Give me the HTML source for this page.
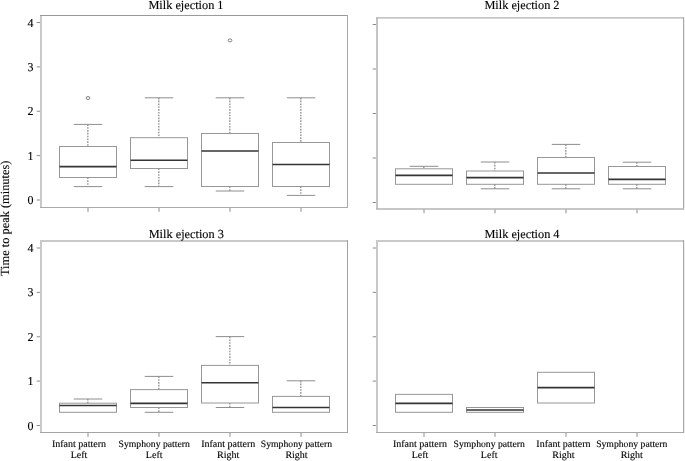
<!DOCTYPE html>
<html><head><meta charset="utf-8"><style>
html,body{margin:0;padding:0;background:#fff;}
body{width:685px;height:461px;overflow:hidden;}
svg{display:block;filter:grayscale(1);}
text{text-rendering:geometricPrecision;font-family:"Liberation Serif",serif;fill:#000000;stroke:#000000;stroke-width:0.12px;}
.tk{font-size:12px;}
.ti{font-size:12.3px;}
.yl{font-size:12.4px;}
.xl{font-size:10px;}
.xs{font-size:9.7px;}
</style></head><body>
<svg width="685" height="461" viewBox="0 0 685 461">
<line x1="41.00" y1="15.50" x2="41.00" y2="207.50" stroke="#c9c9c9" stroke-width="2"/>
<line x1="40.00" y1="15.50" x2="348.00" y2="15.50" stroke="#9a9a9a" stroke-width="1"/>
<line x1="347.50" y1="15.00" x2="347.50" y2="208.00" stroke="#a8a8a8" stroke-width="1"/>
<line x1="40.00" y1="207.50" x2="348.00" y2="207.50" stroke="#aaaaaa" stroke-width="1"/>
<line x1="36.70" y1="200.00" x2="40.00" y2="200.00" stroke="#8c8c8c" stroke-width="1"/>
<text x="33.4" y="204.10" text-anchor="end" class="tk">0</text>
<line x1="36.70" y1="155.62" x2="40.00" y2="155.62" stroke="#8c8c8c" stroke-width="1"/>
<text x="33.4" y="159.72" text-anchor="end" class="tk">1</text>
<line x1="36.70" y1="111.25" x2="40.00" y2="111.25" stroke="#8c8c8c" stroke-width="1"/>
<text x="33.4" y="115.35" text-anchor="end" class="tk">2</text>
<line x1="36.70" y1="66.88" x2="40.00" y2="66.88" stroke="#8c8c8c" stroke-width="1"/>
<text x="33.4" y="70.97" text-anchor="end" class="tk">3</text>
<line x1="36.70" y1="22.50" x2="40.00" y2="22.50" stroke="#8c8c8c" stroke-width="1"/>
<text x="33.4" y="26.60" text-anchor="end" class="tk">4</text>
<line x1="88.00" y1="208.00" x2="88.00" y2="211.80" stroke="#8c8c8c" stroke-width="1"/>
<line x1="159.00" y1="208.00" x2="159.00" y2="211.80" stroke="#8c8c8c" stroke-width="1"/>
<line x1="230.00" y1="208.00" x2="230.00" y2="211.80" stroke="#8c8c8c" stroke-width="1"/>
<line x1="301.00" y1="208.00" x2="301.00" y2="211.80" stroke="#8c8c8c" stroke-width="1"/>
<line x1="87.80" y1="124.40" x2="87.80" y2="146.50" stroke="#9c9c9c" stroke-width="1.5" stroke-dasharray="1.6 1.22"/>
<line x1="73.75" y1="124.40" x2="102.25" y2="124.40" stroke="#8e8e8e" stroke-width="1"/>
<line x1="87.80" y1="177.50" x2="87.80" y2="186.60" stroke="#9c9c9c" stroke-width="1.5" stroke-dasharray="1.6 1.22"/>
<line x1="73.75" y1="186.60" x2="102.25" y2="186.60" stroke="#8e8e8e" stroke-width="1"/>
<rect x="59.50" y="146.50" width="57.00" height="31.00" fill="none" stroke="#979797" stroke-width="1"/>
<line x1="59.50" y1="166.60" x2="116.50" y2="166.60" stroke="#343434" stroke-width="1.6"/>
<ellipse cx="88.00" cy="98.00" rx="1.9" ry="1.5" fill="none" stroke="#808080" stroke-width="1"/>
<line x1="158.80" y1="97.80" x2="158.80" y2="137.70" stroke="#9c9c9c" stroke-width="1.5" stroke-dasharray="1.6 1.22"/>
<line x1="144.75" y1="97.80" x2="173.25" y2="97.80" stroke="#8e8e8e" stroke-width="1"/>
<line x1="158.80" y1="168.50" x2="158.80" y2="186.60" stroke="#9c9c9c" stroke-width="1.5" stroke-dasharray="1.6 1.22"/>
<line x1="144.75" y1="186.60" x2="173.25" y2="186.60" stroke="#8e8e8e" stroke-width="1"/>
<rect x="130.50" y="137.70" width="57.00" height="30.80" fill="none" stroke="#979797" stroke-width="1"/>
<line x1="130.50" y1="160.30" x2="187.50" y2="160.30" stroke="#343434" stroke-width="1.6"/>
<line x1="229.80" y1="97.80" x2="229.80" y2="133.50" stroke="#9c9c9c" stroke-width="1.5" stroke-dasharray="1.6 1.22"/>
<line x1="215.75" y1="97.80" x2="244.25" y2="97.80" stroke="#8e8e8e" stroke-width="1"/>
<line x1="229.80" y1="186.50" x2="229.80" y2="191.00" stroke="#9c9c9c" stroke-width="1.5" stroke-dasharray="1.6 1.22"/>
<line x1="215.75" y1="191.00" x2="244.25" y2="191.00" stroke="#8e8e8e" stroke-width="1"/>
<rect x="201.50" y="133.50" width="57.00" height="53.00" fill="none" stroke="#979797" stroke-width="1"/>
<line x1="201.50" y1="151.00" x2="258.50" y2="151.00" stroke="#343434" stroke-width="1.6"/>
<ellipse cx="230.00" cy="40.40" rx="1.9" ry="1.5" fill="none" stroke="#808080" stroke-width="1"/>
<line x1="300.80" y1="97.80" x2="300.80" y2="142.50" stroke="#9c9c9c" stroke-width="1.5" stroke-dasharray="1.6 1.22"/>
<line x1="286.75" y1="97.80" x2="315.25" y2="97.80" stroke="#8e8e8e" stroke-width="1"/>
<line x1="300.80" y1="186.50" x2="300.80" y2="195.40" stroke="#9c9c9c" stroke-width="1.5" stroke-dasharray="1.6 1.22"/>
<line x1="286.75" y1="195.40" x2="315.25" y2="195.40" stroke="#8e8e8e" stroke-width="1"/>
<rect x="272.50" y="142.50" width="57.00" height="44.00" fill="none" stroke="#979797" stroke-width="1"/>
<line x1="272.50" y1="164.50" x2="329.50" y2="164.50" stroke="#343434" stroke-width="1.6"/>
<line x1="377.00" y1="17.50" x2="377.00" y2="209.00" stroke="#c4c4c4" stroke-width="2"/>
<line x1="376.00" y1="17.90" x2="684.00" y2="17.90" stroke="#b0b0b0" stroke-width="1.3"/>
<line x1="683.50" y1="17.50" x2="683.50" y2="209.50" stroke="#a8a8a8" stroke-width="1"/>
<line x1="684.50" y1="17.50" x2="684.50" y2="209.50" stroke="#eeeeee" stroke-width="1"/>
<line x1="376.00" y1="209.00" x2="684.00" y2="209.00" stroke="#b4b4b4" stroke-width="1.5"/>
<line x1="372.70" y1="202.50" x2="376.00" y2="202.50" stroke="#8c8c8c" stroke-width="1"/>
<line x1="372.70" y1="158.00" x2="376.00" y2="158.00" stroke="#8c8c8c" stroke-width="1"/>
<line x1="372.70" y1="113.50" x2="376.00" y2="113.50" stroke="#8c8c8c" stroke-width="1"/>
<line x1="372.70" y1="69.00" x2="376.00" y2="69.00" stroke="#8c8c8c" stroke-width="1"/>
<line x1="372.70" y1="24.50" x2="376.00" y2="24.50" stroke="#8c8c8c" stroke-width="1"/>
<line x1="424.00" y1="209.50" x2="424.00" y2="213.30" stroke="#8c8c8c" stroke-width="1"/>
<line x1="495.00" y1="209.50" x2="495.00" y2="213.30" stroke="#8c8c8c" stroke-width="1"/>
<line x1="566.00" y1="209.50" x2="566.00" y2="213.30" stroke="#8c8c8c" stroke-width="1"/>
<line x1="637.00" y1="209.50" x2="637.00" y2="213.30" stroke="#8c8c8c" stroke-width="1"/>
<line x1="423.80" y1="166.30" x2="423.80" y2="168.80" stroke="#9c9c9c" stroke-width="1.5" stroke-dasharray="1.6 1.22"/>
<line x1="409.75" y1="166.30" x2="438.25" y2="166.30" stroke="#8e8e8e" stroke-width="1"/>
<rect x="395.50" y="168.80" width="57.00" height="15.50" fill="none" stroke="#979797" stroke-width="1"/>
<line x1="395.50" y1="175.40" x2="452.50" y2="175.40" stroke="#343434" stroke-width="1.6"/>
<line x1="494.80" y1="162.00" x2="494.80" y2="171.00" stroke="#9c9c9c" stroke-width="1.5" stroke-dasharray="1.6 1.22"/>
<line x1="480.75" y1="162.00" x2="509.25" y2="162.00" stroke="#8e8e8e" stroke-width="1"/>
<line x1="494.80" y1="184.30" x2="494.80" y2="188.80" stroke="#9c9c9c" stroke-width="1.5" stroke-dasharray="1.6 1.22"/>
<line x1="480.75" y1="188.80" x2="509.25" y2="188.80" stroke="#8e8e8e" stroke-width="1"/>
<rect x="466.50" y="171.00" width="57.00" height="13.30" fill="none" stroke="#979797" stroke-width="1"/>
<line x1="466.50" y1="177.60" x2="523.50" y2="177.60" stroke="#343434" stroke-width="1.6"/>
<line x1="565.80" y1="144.40" x2="565.80" y2="157.50" stroke="#9c9c9c" stroke-width="1.5" stroke-dasharray="1.6 1.22"/>
<line x1="551.75" y1="144.40" x2="580.25" y2="144.40" stroke="#8e8e8e" stroke-width="1"/>
<line x1="565.80" y1="184.30" x2="565.80" y2="188.80" stroke="#9c9c9c" stroke-width="1.5" stroke-dasharray="1.6 1.22"/>
<line x1="551.75" y1="188.80" x2="580.25" y2="188.80" stroke="#8e8e8e" stroke-width="1"/>
<rect x="537.50" y="157.50" width="57.00" height="26.80" fill="none" stroke="#979797" stroke-width="1"/>
<line x1="537.50" y1="173.00" x2="594.50" y2="173.00" stroke="#343434" stroke-width="1.6"/>
<line x1="636.80" y1="162.20" x2="636.80" y2="166.50" stroke="#9c9c9c" stroke-width="1.5" stroke-dasharray="1.6 1.22"/>
<line x1="622.75" y1="162.20" x2="651.25" y2="162.20" stroke="#8e8e8e" stroke-width="1"/>
<line x1="636.80" y1="184.30" x2="636.80" y2="188.80" stroke="#9c9c9c" stroke-width="1.5" stroke-dasharray="1.6 1.22"/>
<line x1="622.75" y1="188.80" x2="651.25" y2="188.80" stroke="#8e8e8e" stroke-width="1"/>
<rect x="608.50" y="166.50" width="57.00" height="17.80" fill="none" stroke="#979797" stroke-width="1"/>
<line x1="608.50" y1="179.40" x2="665.50" y2="179.40" stroke="#343434" stroke-width="1.6"/>
<line x1="41.00" y1="240.00" x2="41.00" y2="432.50" stroke="#c9c9c9" stroke-width="2"/>
<line x1="40.00" y1="241.00" x2="348.00" y2="241.00" stroke="#c9c9c9" stroke-width="2"/>
<line x1="347.50" y1="240.00" x2="347.50" y2="433.00" stroke="#a4a4a4" stroke-width="1"/>
<line x1="40.00" y1="432.50" x2="348.00" y2="432.50" stroke="#a4a4a4" stroke-width="1"/>
<line x1="36.70" y1="425.50" x2="40.00" y2="425.50" stroke="#8c8c8c" stroke-width="1"/>
<text x="33.4" y="429.60" text-anchor="end" class="tk">0</text>
<line x1="36.70" y1="381.12" x2="40.00" y2="381.12" stroke="#8c8c8c" stroke-width="1"/>
<text x="33.4" y="385.23" text-anchor="end" class="tk">1</text>
<line x1="36.70" y1="336.75" x2="40.00" y2="336.75" stroke="#8c8c8c" stroke-width="1"/>
<text x="33.4" y="340.85" text-anchor="end" class="tk">2</text>
<line x1="36.70" y1="292.38" x2="40.00" y2="292.38" stroke="#8c8c8c" stroke-width="1"/>
<text x="33.4" y="296.48" text-anchor="end" class="tk">3</text>
<line x1="36.70" y1="248.00" x2="40.00" y2="248.00" stroke="#8c8c8c" stroke-width="1"/>
<text x="33.4" y="252.10" text-anchor="end" class="tk">4</text>
<line x1="88.00" y1="433.00" x2="88.00" y2="436.80" stroke="#8c8c8c" stroke-width="1"/>
<line x1="159.00" y1="433.00" x2="159.00" y2="436.80" stroke="#8c8c8c" stroke-width="1"/>
<line x1="230.00" y1="433.00" x2="230.00" y2="436.80" stroke="#8c8c8c" stroke-width="1"/>
<line x1="301.00" y1="433.00" x2="301.00" y2="436.80" stroke="#8c8c8c" stroke-width="1"/>
<line x1="87.80" y1="399.00" x2="87.80" y2="403.20" stroke="#9c9c9c" stroke-width="1.5" stroke-dasharray="1.6 1.22"/>
<line x1="73.75" y1="399.00" x2="102.25" y2="399.00" stroke="#8e8e8e" stroke-width="1"/>
<rect x="59.50" y="403.20" width="57.00" height="9.10" fill="none" stroke="#979797" stroke-width="1"/>
<line x1="59.50" y1="405.50" x2="116.50" y2="405.50" stroke="#343434" stroke-width="1.6"/>
<line x1="158.80" y1="376.40" x2="158.80" y2="389.60" stroke="#9c9c9c" stroke-width="1.5" stroke-dasharray="1.6 1.22"/>
<line x1="144.75" y1="376.40" x2="173.25" y2="376.40" stroke="#8e8e8e" stroke-width="1"/>
<line x1="158.80" y1="407.50" x2="158.80" y2="412.30" stroke="#9c9c9c" stroke-width="1.5" stroke-dasharray="1.6 1.22"/>
<line x1="144.75" y1="412.30" x2="173.25" y2="412.30" stroke="#8e8e8e" stroke-width="1"/>
<rect x="130.50" y="389.60" width="57.00" height="17.90" fill="none" stroke="#979797" stroke-width="1"/>
<line x1="130.50" y1="403.40" x2="187.50" y2="403.40" stroke="#343434" stroke-width="1.6"/>
<line x1="229.80" y1="336.60" x2="229.80" y2="365.40" stroke="#9c9c9c" stroke-width="1.5" stroke-dasharray="1.6 1.22"/>
<line x1="215.75" y1="336.60" x2="244.25" y2="336.60" stroke="#8e8e8e" stroke-width="1"/>
<line x1="229.80" y1="403.00" x2="229.80" y2="407.50" stroke="#9c9c9c" stroke-width="1.5" stroke-dasharray="1.6 1.22"/>
<line x1="215.75" y1="407.50" x2="244.25" y2="407.50" stroke="#8e8e8e" stroke-width="1"/>
<rect x="201.50" y="365.40" width="57.00" height="37.60" fill="none" stroke="#979797" stroke-width="1"/>
<line x1="201.50" y1="382.80" x2="258.50" y2="382.80" stroke="#343434" stroke-width="1.6"/>
<line x1="300.80" y1="380.80" x2="300.80" y2="396.40" stroke="#9c9c9c" stroke-width="1.5" stroke-dasharray="1.6 1.22"/>
<line x1="286.75" y1="380.80" x2="315.25" y2="380.80" stroke="#8e8e8e" stroke-width="1"/>
<rect x="272.50" y="396.40" width="57.00" height="15.90" fill="none" stroke="#979797" stroke-width="1"/>
<line x1="272.50" y1="407.50" x2="329.50" y2="407.50" stroke="#343434" stroke-width="1.6"/>
<line x1="377.00" y1="240.00" x2="377.00" y2="432.50" stroke="#c8c8c8" stroke-width="2"/>
<line x1="376.00" y1="241.00" x2="684.00" y2="241.00" stroke="#c9c9c9" stroke-width="2"/>
<line x1="683.50" y1="240.00" x2="683.50" y2="433.00" stroke="#a8a8a8" stroke-width="1"/>
<line x1="684.50" y1="240.00" x2="684.50" y2="433.00" stroke="#eeeeee" stroke-width="1"/>
<line x1="376.00" y1="432.50" x2="684.00" y2="432.50" stroke="#a8a8a8" stroke-width="1"/>
<line x1="372.70" y1="425.50" x2="376.00" y2="425.50" stroke="#8c8c8c" stroke-width="1"/>
<line x1="372.70" y1="381.12" x2="376.00" y2="381.12" stroke="#8c8c8c" stroke-width="1"/>
<line x1="372.70" y1="336.75" x2="376.00" y2="336.75" stroke="#8c8c8c" stroke-width="1"/>
<line x1="372.70" y1="292.38" x2="376.00" y2="292.38" stroke="#8c8c8c" stroke-width="1"/>
<line x1="372.70" y1="248.00" x2="376.00" y2="248.00" stroke="#8c8c8c" stroke-width="1"/>
<line x1="424.00" y1="433.00" x2="424.00" y2="436.80" stroke="#8c8c8c" stroke-width="1"/>
<line x1="495.00" y1="433.00" x2="495.00" y2="436.80" stroke="#8c8c8c" stroke-width="1"/>
<line x1="566.00" y1="433.00" x2="566.00" y2="436.80" stroke="#8c8c8c" stroke-width="1"/>
<line x1="637.00" y1="433.00" x2="637.00" y2="436.80" stroke="#8c8c8c" stroke-width="1"/>
<rect x="395.50" y="394.40" width="57.00" height="17.90" fill="none" stroke="#979797" stroke-width="1"/>
<line x1="395.50" y1="403.40" x2="452.50" y2="403.40" stroke="#343434" stroke-width="1.6"/>
<rect x="466.50" y="407.50" width="57.00" height="4.80" fill="none" stroke="#979797" stroke-width="1"/>
<line x1="466.50" y1="410.00" x2="523.50" y2="410.00" stroke="#343434" stroke-width="1.6"/>
<rect x="537.50" y="372.30" width="57.00" height="30.70" fill="none" stroke="#979797" stroke-width="1"/>
<line x1="537.50" y1="387.60" x2="594.50" y2="387.60" stroke="#343434" stroke-width="1.6"/>
<text x="148.4" y="9.0" class="ti">Milk ejection 1</text>
<text x="484.4" y="9.0" class="ti">Milk ejection 2</text>
<text x="148.7" y="238.0" class="ti">Milk ejection 3</text>
<text x="484.4" y="238.0" class="ti">Milk ejection 4</text>
<text x="79.0" y="447.0" text-anchor="middle" class="xl">Infant pattern</text>
<text x="79.0" y="457.6" text-anchor="middle" class="xl">Left</text>
<text x="154.2" y="447.0" text-anchor="middle" class="xl xs">Symphony pattern</text>
<text x="154.2" y="457.6" text-anchor="middle" class="xl">Left</text>
<text x="228.2" y="447.0" text-anchor="middle" class="xl">Infant pattern</text>
<text x="228.2" y="457.6" text-anchor="middle" class="xl">Right</text>
<text x="296.5" y="447.0" text-anchor="middle" class="xl xs">Symphony pattern</text>
<text x="296.5" y="457.6" text-anchor="middle" class="xl">Right</text>
<text x="420.0" y="447.0" text-anchor="middle" class="xl">Infant pattern</text>
<text x="420.0" y="457.6" text-anchor="middle" class="xl">Left</text>
<text x="489.2" y="447.0" text-anchor="middle" class="xl xs">Symphony pattern</text>
<text x="489.2" y="457.6" text-anchor="middle" class="xl">Left</text>
<text x="563.4" y="447.0" text-anchor="middle" class="xl">Infant pattern</text>
<text x="563.4" y="457.6" text-anchor="middle" class="xl">Right</text>
<text x="631.8" y="447.0" text-anchor="middle" class="xl xs">Symphony pattern</text>
<text x="631.8" y="457.6" text-anchor="middle" class="xl">Right</text>
<text transform="translate(9,218.3) rotate(-90)" text-anchor="middle" class="yl">Time to peak (minutes)</text>
</svg>
</body></html>
